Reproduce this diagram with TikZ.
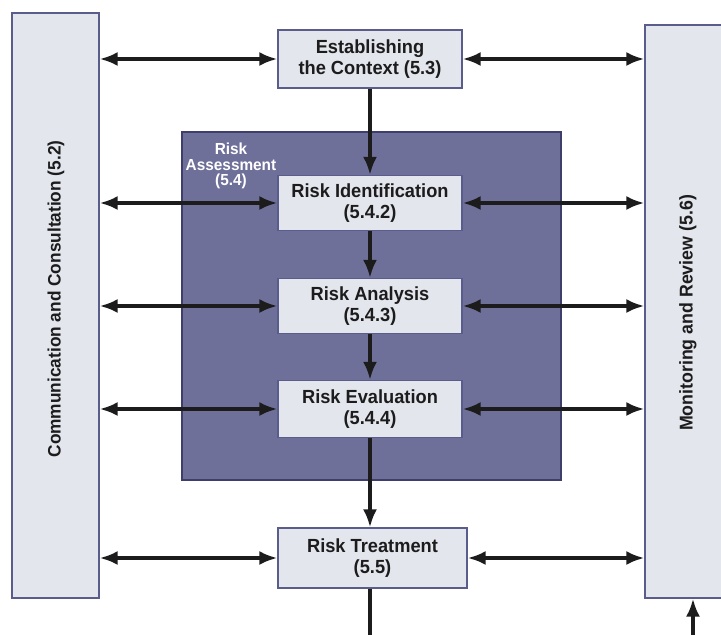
\documentclass[tikz,border=0pt]{standalone}
\usepackage{fontspec}
\setmainfont{Liberation Sans}[FakeStretch=0.96]
\usetikzlibrary{positioning,
        arrows.meta}
\usepackage{xcolor}

\definecolor{boxfill}{HTML}{E4E6EE}
\definecolor{boxline}{HTML}{5A5C8C}
\definecolor{assessfill}{HTML}{6F7099}
\definecolor{assessline}{HTML}{3D3E6A}
\definecolor{ink}{HTML}{1C1C1C}

\tikzset{
        stage/.style={draw=boxline, fill=boxfill, line width=1.4pt,
                minimum width=184pt, minimum height=56pt, inner sep=0pt, text=ink,
                align=center, font=\bfseries\fontsize{19}{20.5}\selectfont},
        side/.style={draw=boxline, fill=boxfill, line width=1.4pt, inner sep=0pt},
        link/.style={draw=ink, line width=3.2pt, {Latex[length=18pt,width=14pt]}-{Latex[length=18pt,width=14pt]}},
        flow/.style={draw=ink, line width=3.2pt, -{Latex[length=18pt,width=14pt]}}
}

\begin{document}
\begin{tikzpicture}[x=1pt,y=-1pt]
        \useasboundingbox (0,0) rectangle (721,635);

        % risk assessment block
        \node [draw=assessline, fill=assessfill, line width=1.4pt,
                minimum width=379pt, minimum height=348pt] (assess) at (371.5,306) {};
        \node [text=white, align=center, inner sep=0pt,
                font=\bfseries\fontsize{16}{15.5}\selectfont] (assesslabel) at (231,166) {Risk\\Assessment\\(5.4)};

        % side bars
        \node [side, minimum width=87pt, minimum height=585pt] (comm) at (55.5,305.5) {};
        \node [rotate=90, text=ink, font=\bfseries\fontsize{18}{19}\selectfont] (commtext) at (56,299) {Communication and Consultation (5.2)};
        \node [side, minimum width=78pt, minimum height=573pt] (mon) at (684,311.5) {};
        \node [rotate=90, text=ink, font=\bfseries\fontsize{18.5}{19}\selectfont] (montext) at (688,313) {Monitoring and Review (5.6)};

        % process steps
        \node [stage, minimum height=58pt] (ctx) at (370,59) {Establishing\\the Context (5.3)};
        \node [stage, minimum height=55pt] (ident) at (370,203) {Risk Identification\\(5.4.2)};
        \node [stage, minimum height=55pt] (analysis) at (370,306) {Risk Analysis\\(5.4.3)};
        \node [stage, minimum height=57pt] (evaluation) at (370,409) {Risk Evaluation\\(5.4.4)};
        \node [stage, minimum width=189pt, minimum height=60pt] (treatment) at (372.5,558) {Risk Treatment\\(5.5)};

        \coordinate (out) at (370,635);
        \coordinate (feedback) at (693,635);

        % main flow
        \draw [flow] (ctx) -- (ident);
        \draw [flow] (ident) -- (analysis);
        \draw [flow] (analysis) -- (evaluation);
        \draw [flow] (evaluation.south -| ctx) -- (treatment.north -| ctx);
        \draw [draw=ink, line width=3.2pt] (treatment.south -| ctx) -- (out);
        \draw [flow] (feedback) -- (mon.south -| feedback);

        % links to the side bars
        \draw [link] (comm.east |- ctx.west) -- (ctx.west);
        \draw [link] (ctx.east) -- (mon.west |- ctx.east);
        \draw [link] (comm.east |- ident.west) -- (ident.west);
        \draw [link] (ident.east) -- (mon.west |- ident.east);
        \draw [link] (comm.east |- analysis.west) -- (analysis.west);
        \draw [link] (analysis.east) -- (mon.west |- analysis.east);
        \draw [link] (comm.east |- evaluation.west) -- (evaluation.west);
        \draw [link] (evaluation.east) -- (mon.west |- evaluation.east);
        \draw [link] (comm.east |- treatment.west) -- (treatment.west);
        \draw [link] (treatment.east) -- (mon.west |- treatment.east);
\end{tikzpicture}
\end{document}
